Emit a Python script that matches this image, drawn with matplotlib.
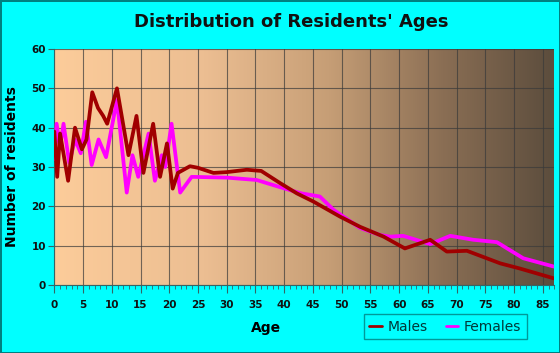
import numpy as np
import matplotlib
matplotlib.use("Agg")
import matplotlib.pyplot as plt
from matplotlib.colors import LinearSegmentedColormap

# data
male_age = [0, 0.5, 1, 2.4, 3.6, 4.8, 5.6, 6.6, 7.6, 8.5, 9.2, 10.9, 12.9, 14.3,
            15.5, 17.2, 18.4, 19.6, 20.6, 21.5, 23.6, 25, 27.7, 30, 33.5, 36,
            39.3, 42.2, 45.1, 49.7, 53.2, 57.3, 61, 65.4, 68.3, 71.8, 77.6, 81, 86.9]
male_val = [39, 27.5, 38.5, 26.5, 40, 34.5, 37, 49, 45, 43, 41, 50, 33, 43,
            28.5, 41, 27.5, 36, 24.5, 28.5, 30.2, 29.8, 28.5, 28.7, 29.3, 29,
            25.9, 23.3, 21.2, 17.4, 14.8, 12.3, 9.3, 11.5, 8.5, 8.7, 5.5, 4.2, 1.7]

female_age = [0, 0.4, 1, 1.6, 2.6, 3.6, 4.6, 5.5, 6.5, 7.7, 9, 10.9, 12.6, 13.6,
              14.6, 16.4, 17.5, 18.7, 19.3, 20.4, 21.9, 23.9, 30, 35.2, 39.9, 43,
              46.2, 48.6, 52, 53.2, 56.7, 58.4, 60.7, 65.4, 68.9, 72.9, 77, 81.6, 86.9]
female_val = [32, 41, 35, 41, 31, 37, 33.5, 41.5, 30.5, 37, 32.5, 47, 23.5, 33,
              27.5, 38.5, 26.5, 33, 30, 41, 23.5, 27.5, 27.3, 26.7, 24.6, 23.3,
              22.5, 19.1, 15.7, 14.5, 12.7, 12.3, 12.5, 10.4, 12.5, 11.5, 10.9, 6.8, 4.7]

xticks = list(range(0, 90, 5))
yticks = list(range(0, 70, 10))

fig = plt.figure(figsize=(5.6, 3.53), dpi=100)
fig.patch.set_facecolor("#00FFFF")
fig.patch.set_edgecolor("#008080")
fig.patch.set_linewidth(2)

ax = fig.add_axes([0.097, 0.1926, 0.8928, 0.6686])

# background gradient, peach -> dark brown
grad = LinearSegmentedColormap.from_list("bg", [
    (0.0, (252/255, 204/255, 154/255)),
    (0.3, (236/255, 190/255, 146/255)),
    (0.55, (198/255, 158/255, 118/255)),
    (0.78, (138/255, 110/255, 84/255)),
    (1.0, (92/255, 77/255, 61/255))])
ax.imshow(np.linspace(0, 1, 256).reshape(1, -1), cmap=grad, aspect="auto",
          extent=[0, 87, 0, 60], zorder=0)

ax.set_xlim(0, 87)
ax.set_ylim(0, 60)
ax.set_xticks(xticks)
ax.set_xticks(range(0, 88), minor=True)
ax.set_yticks(yticks)
ax.grid(True, color="#3a3a3a", linewidth=0.8, alpha=0.7, zorder=1)

ax.plot(female_age, female_val, color="#FF00FF", lw=2.7, solid_joinstyle="round",
        solid_capstyle="round", label="Females", zorder=3)
ax.plot(male_age, male_val, color="#A00000", lw=2.7, solid_joinstyle="round",
        solid_capstyle="round", label="Males", zorder=4)

for s in ["top", "right"]:
    ax.spines[s].set_visible(False)
ax.spines["left"].set_color("#336666")
ax.spines["bottom"].set_color("#336666")
ax.tick_params(axis="both", which="both", direction="out", color="#336666",
               labelsize=7.5, labelcolor="#111111")
ax.tick_params(axis="x", which="major", length=6, pad=5)
ax.tick_params(axis="x", which="minor", length=3)
ax.tick_params(axis="y", length=4, pad=2)
for lab in ax.get_xticklabels() + ax.get_yticklabels():
    lab.set_fontweight("bold")

fig.text(0.52, 0.938, "Distribution of Residents' Ages", ha="center", va="center",
         fontsize=13, fontweight="bold", color="#111111")
ax.set_ylabel("Number of residents", fontsize=10, fontweight="bold", labelpad=9)
fig.text(0.475, 0.072, "Age", ha="center", va="center", fontsize=10, fontweight="bold")

h, l = ax.get_legend_handles_labels()
leg = fig.legend([h[1], h[0]], [l[1], l[0]], loc="center", bbox_to_anchor=(0.795, 0.075),
                 ncol=2, frameon=True, fontsize=10, handlelength=0.9, handletextpad=0.4,
                 columnspacing=1.3, fancybox=False, borderpad=0.4, labelcolor="#003838")
leg.get_frame().set_facecolor("#00FFFF")
leg.get_frame().set_edgecolor("#008080")
for line in leg.get_lines():
    line.set_linewidth(2)

fig.savefig("out.png", dpi=100, facecolor=fig.get_facecolor(), edgecolor=fig.get_edgecolor())
